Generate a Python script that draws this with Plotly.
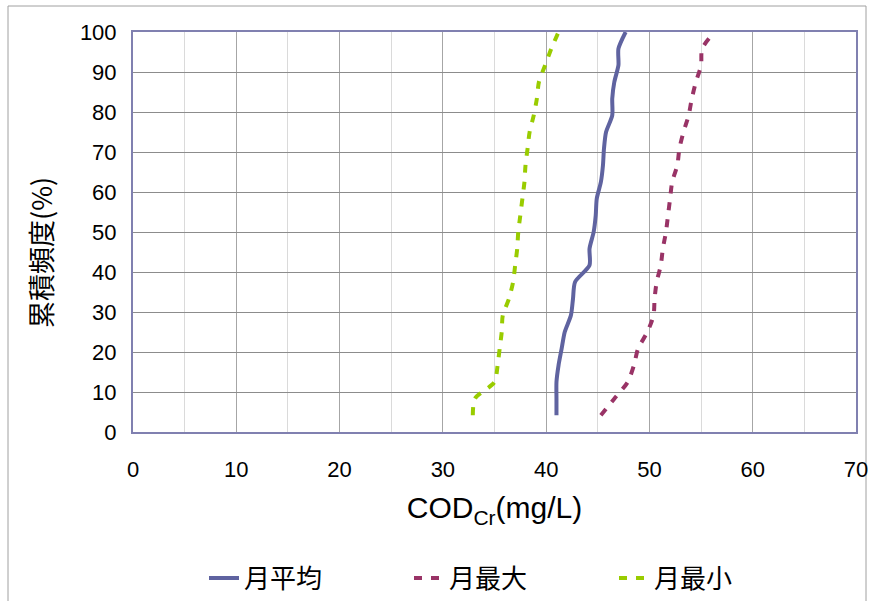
import plotly.graph_objects as go

# Cumulative frequency (%) for each month rank
freq = [4.17, 8.33, 12.5, 16.67, 20.83, 25.0, 29.17, 33.33, 37.5, 41.67, 45.83, 50.0,
        54.17, 58.33, 62.5, 66.67, 70.83, 75.0, 79.17, 83.33, 87.5, 91.67, 95.83, 100.0]

# CODCr (mg/L), sorted ascending
cod_mean = [41.0, 41.0, 41.0, 41.2, 41.5, 41.8, 42.4, 42.6, 42.8, 44.2, 44.2, 44.6,
            44.8, 44.9, 45.3, 45.5, 45.6, 45.8, 46.4, 46.4, 46.6, 47.0, 47.0, 47.7]
cod_max = [45.3, 46.6, 47.9, 48.5, 48.9, 49.8, 50.4, 50.5, 50.7, 51.1, 51.3, 51.6,
           51.8, 52.0, 52.2, 52.7, 52.9, 53.3, 53.8, 54.1, 54.5, 55.0, 55.1, 56.3]
cod_min = [32.9, 33.1, 35.0, 35.3, 35.5, 35.7, 35.8, 36.4, 36.8, 37.0, 37.2, 37.3,
           37.5, 37.7, 37.9, 38.0, 38.2, 38.4, 38.8, 39.1, 39.3, 39.9, 40.5, 41.2]

series_names = ["月平均", "月最大", "月最小"]
x_ticks = [0, 10, 20, 30, 40, 50, 60, 70]
y_ticks = [0, 10, 20, 30, 40, 50, 60, 70, 80, 90, 100]
x_title = "COD<sub>Cr</sub>(mg/L)"
y_title = "累積頻度(%)"

jp_font = "Noto Sans CJK JP"
num_font = "Liberation Sans"

W, H = 871, 601
ML, MR, MT, MB = 133, 15, 32, 169
pw, ph = W - ML - MR, H - MT - MB


def px_x(px):
    return (px - ML) / pw


def px_y(py):
    return (H - MB - py) / ph


fig = go.Figure()
fig.add_trace(go.Scatter(x=cod_mean, y=freq, mode="lines", name=series_names[0],
                         line=dict(color="#5F63A0", width=4, shape="spline", smoothing=0.7)))
fig.add_trace(go.Scatter(x=cod_max, y=freq, mode="lines", name=series_names[1],
                         line=dict(color="#993366", width=4, dash="8px,9px",
                                   shape="spline", smoothing=0.7)))
fig.add_trace(go.Scatter(x=cod_min, y=freq, mode="lines", name=series_names[2],
                         line=dict(color="#99CC00", width=4, dash="8px,9px",
                                   shape="spline", smoothing=0.7)))

# outer chart frame
frame = dict(type="rect", xref="paper", yref="paper",
             x0=px_x(8), x1=px_x(866), y0=px_y(640), y1=px_y(6),
             line=dict(color="#A0A0A0", width=1), layer="below")

fig.update_layout(
    width=W, height=H,
    margin=dict(l=ML, r=MR, t=MT, b=MB, autoexpand=False),
    paper_bgcolor="white", plot_bgcolor="white",
    showlegend=True,
    legend=dict(orientation="h", xref="container", yref="container",
                x=204 / W, y=1 - 578 / H, xanchor="left", yanchor="middle",
                font=dict(family=jp_font, size=26, color="#000000"),
                entrywidth=160, entrywidthmode="pixels", bgcolor="rgba(0,0,0,0)"),
    shapes=[frame],
    annotations=[dict(text=y_title, textangle=-90, showarrow=False,
                      xref="paper", yref="paper", x=px_x(40), y=px_y(253),
                      xanchor="center", yanchor="middle",
                      font=dict(family=jp_font, size=27, color="#000000"))],
)

fig.update_xaxes(
    range=[0, 70], tickvals=x_ticks, ticktext=[str(v) for v in x_ticks],
    showgrid=True, gridcolor="#A6A6A6", gridwidth=1,
    minor=dict(dtick=5, showgrid=True, gridcolor="#DADADA", gridwidth=1),
    showline=True, linecolor="#8080B0", linewidth=2, mirror=True,
    ticks="", zeroline=False, ticklabelstandoff=17, automargin=False,
    tickfont=dict(family=num_font, size=22, color="#000000"),
    title=dict(text=x_title, standoff=16,
               font=dict(family=num_font, size=30, color="#000000")),
)
fig.update_yaxes(
    range=[0, 100], tickvals=y_ticks, ticktext=[str(v) for v in y_ticks],
    showgrid=True, gridcolor="#8C8C8C", gridwidth=1,
    showline=True, linecolor="#8080B0", linewidth=2, mirror=True,
    ticks="", zeroline=False, ticklabelstandoff=10, automargin=False,
    tickfont=dict(family=num_font, size=22, color="#000000"),
)

fig.write_html("out.html")
